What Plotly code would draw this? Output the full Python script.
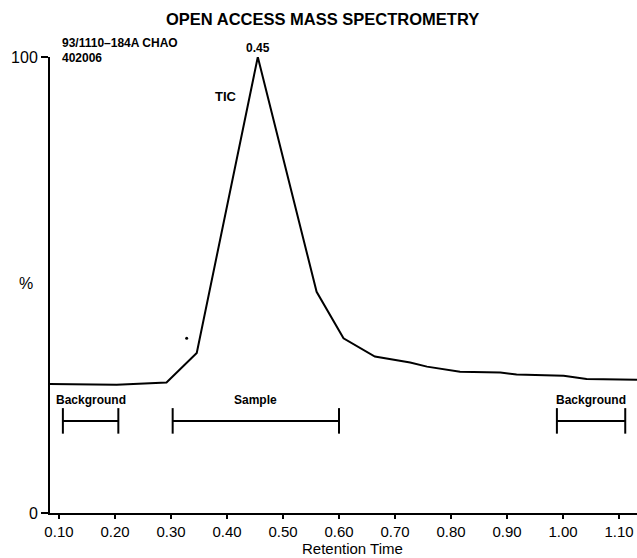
import plotly.graph_objects as go

# ---- data ----
rt = [0.084, 0.203, 0.292, 0.346, 0.455, 0.560, 0.608, 0.664, 0.727, 0.757,
      0.816, 0.888, 0.917, 1.001, 1.042, 1.132]
tic = [28.3, 28.1, 28.6, 35.1, 100.0, 48.5, 38.3, 34.3, 33.0, 32.1,
       31.0, 30.8, 30.4, 30.1, 29.4, 29.2]

x_ticks = [0.10, 0.20, 0.30, 0.40, 0.50, 0.60, 0.70, 0.80, 0.90, 1.00, 1.10]
x_tick_labels = ["0.10", "0.20", "0.30", "0.40", "0.50", "0.60", "0.70",
                 "0.80", "0.90", "1.00", "1.10"]
y_ticks = [0, 100]
y_tick_labels = ["0", "100"]

bracket_names = ["Background", "Sample", "Background"]
bracket_start = [0.107, 0.303, 0.989]
bracket_end = [0.206, 0.600, 1.111]
bracket_level = 20.2
bracket_half = 2.8

dot_x = [0.328]
dot_y = [38.3]

FONT = "Liberation Sans, Arial, Helvetica, sans-serif"

fig = go.Figure()

fig.add_trace(go.Scatter(x=rt, y=tic, mode="lines",
                         line=dict(color="black", width=2),
                         hoverinfo="skip", showlegend=False))

# brackets
bx, by = [], []
for s, e in zip(bracket_start, bracket_end):
    bx += [s, s, None, s, e, None, e, e, None]
    by += [bracket_level - bracket_half, bracket_level + bracket_half, None,
           bracket_level, bracket_level, None,
           bracket_level - bracket_half, bracket_level + bracket_half, None]
fig.add_trace(go.Scatter(x=bx, y=by, mode="lines",
                         line=dict(color="black", width=2),
                         hoverinfo="skip", showlegend=False))

fig.add_trace(go.Scatter(x=dot_x, y=dot_y, mode="markers",
                         marker=dict(color="black", size=3),
                         hoverinfo="skip", showlegend=False))

annotations = []
for name, s, e in zip(bracket_names, bracket_start, bracket_end):
    annotations.append(dict(x=(s + e) / 2, y=24.8, xref="x", yref="y",
                            text="<b>%s</b>" % name, showarrow=False,
                            font=dict(size=12, family=FONT, color="black"),
                            xanchor="center", yanchor="middle"))

annotations += [
    dict(x=0.4642, y=1.0844, xref="paper", yref="paper",
         text="<b>OPEN ACCESS MASS SPECTROMETRY</b>", showarrow=False,
         font=dict(size=16.5, family=FONT, color="black"),
         xanchor="center", yanchor="middle"),
    dict(x=0.017, y=1.0307, xref="paper", yref="paper",
         text="<b>93/1110\u2013184A CHAO</b>", showarrow=False,
         font=dict(size=12, family=FONT, color="black"),
         xanchor="left", yanchor="middle"),
    dict(x=0.017, y=0.998, xref="paper", yref="paper",
         text="<b>402006</b>", showarrow=False,
         font=dict(size=12, family=FONT, color="black"),
         xanchor="left", yanchor="middle"),
    dict(x=0.3543, y=1.0197, xref="paper", yref="paper",
         text="<b>0.45</b>", showarrow=False,
         font=dict(size=12, family=FONT, color="black"),
         xanchor="center", yanchor="middle"),
    dict(x=0.398, y=91.4, xref="x", yref="y",
         text="<b>TIC</b>", showarrow=False,
         font=dict(size=13, family=FONT, color="black"),
         xanchor="center", yanchor="middle"),
    dict(x=-0.0416, y=0.504, xref="paper", yref="paper",
         text="%", showarrow=False,
         font=dict(size=16, family=FONT, color="black"),
         xanchor="center", yanchor="middle"),
    dict(x=0.5153, y=-0.0987, xref="paper", yref="paper",
         text="Retention Time", showarrow=False, borderpad=0,
         font=dict(size=15, family=FONT, color="black"),
         xanchor="center", yanchor="bottom"),
]

fig.update_layout(
    width=637, height=558,
    margin=dict(l=50, r=0, t=57, b=45, pad=0),
    paper_bgcolor="white", plot_bgcolor="white",
    showlegend=False,
    annotations=annotations,
    font=dict(family=FONT, color="black", size=16),
    xaxis=dict(range=[0.084, 1.132], tickvals=x_ticks, ticktext=x_tick_labels,
               showgrid=False, zeroline=False, showline=True,
               linecolor="black", linewidth=2, ticks="outside", ticklen=4,
               tickwidth=2, tickcolor="black",
               tickfont=dict(size=15, family=FONT, color="black")),
    yaxis=dict(range=[0, 100], tickvals=y_ticks, ticktext=y_tick_labels,
               showgrid=False, zeroline=False, showline=True,
               linecolor="black", linewidth=2, ticks="outside", ticklen=7,
               tickwidth=2, tickcolor="black",
               tickfont=dict(size=16, family=FONT, color="black")),
)

fig.write_html("out.html")
